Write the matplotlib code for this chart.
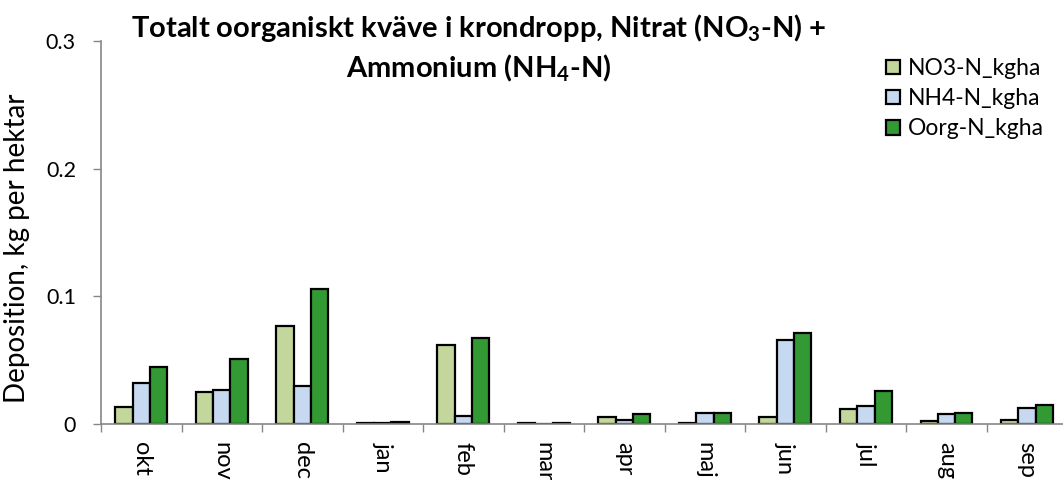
import matplotlib.pyplot as plt
import numpy as np

plt.rcParams['font.family'] = ['Lato', 'DejaVu Sans']
plt.rcParams['mathtext.fontset'] = 'custom'
plt.rcParams['mathtext.rm'] = 'Lato:bold'
plt.rcParams['mathtext.bf'] = 'Lato:bold'

# Data
months = ['okt', 'nov', 'dec', 'jan', 'feb', 'mar', 'apr', 'maj', 'jun', 'jul', 'aug', 'sep']
no3 = [0.013, 0.025, 0.0766, 0.0005, 0.0615, 0.0005, 0.0057, 0.0008, 0.0057, 0.0117, 0.0023, 0.0029]
nh4 = [0.032, 0.027, 0.0295, 0.0008, 0.0065, 0.0003, 0.0029, 0.0083, 0.066, 0.0143, 0.0078, 0.0128]
oorg = [0.045, 0.051, 0.1055, 0.0012, 0.0675, 0.0007, 0.008, 0.0088, 0.0713, 0.0258, 0.0088, 0.0146]
series_names = ['NO3-N_kgha', 'NH4-N_kgha', 'Oorg-N_kgha']
colors = ['#C3D69B', '#C6D9F1', '#339933']

fig = plt.figure(figsize=(10.63, 4.8), dpi=100)
ax = fig.add_axes([0.095, 0.1167, 0.909, 0.798])

x = np.arange(len(months))
w = 0.215
for i, (vals, name, c) in enumerate(zip([no3, nh4, oorg], series_names, colors)):
    ax.bar(x + (i - 1) * w, vals, w, color=c, edgecolor='black', linewidth=1.6, label=name)

ax.set_xlim(-0.5, len(months) - 0.5)
ax.set_ylim(0, 0.3)
ax.set_yticks([0, 0.1, 0.2, 0.3])
ax.set_yticklabels(['0', '0.1', '0.2', '0.3'], fontsize=15.5)
ax.set_xticks(x)
ax.set_xticklabels(months, rotation=-90, fontsize=17)
ax.tick_params(axis='x', length=0, pad=13)
ax.set_xticks(np.arange(-0.5, len(months), 1), minor=True)
ax.tick_params(axis='x', which='minor', length=6, color='#868686', width=1)
ax.tick_params(axis='y', length=6, color='#868686', width=1, pad=12)

for s in ['top', 'right']:
    ax.spines[s].set_visible(False)
for s in ['left', 'bottom']:
    ax.spines[s].set_color('#868686')
    ax.spines[s].set_linewidth(1.2)

ax.set_ylabel('Deposition, kg per hektar', fontsize=20)
ax.yaxis.set_label_coords(-0.0735, 0.46)

fig.text(0.4506, 0.942, 'Totalt oorganiskt kväve i krondropp, Nitrat (NO$_3$-N) +',
         ha='center', va='center', fontsize=21, fontweight='bold')
fig.text(0.4506, 0.858, 'Ammonium (NH$_4$-N)',
         ha='center', va='center', fontsize=21, fontweight='bold')

fig.legend(loc='upper left', bbox_to_anchor=(886 / 1063, 1 - 58 / 480), frameon=False,
           fontsize=16.5, handlelength=0.6, handleheight=0.6, handletextpad=0.35,
           labelspacing=0.4, borderpad=0, borderaxespad=0)

fig.savefig('out.png', dpi=100)
